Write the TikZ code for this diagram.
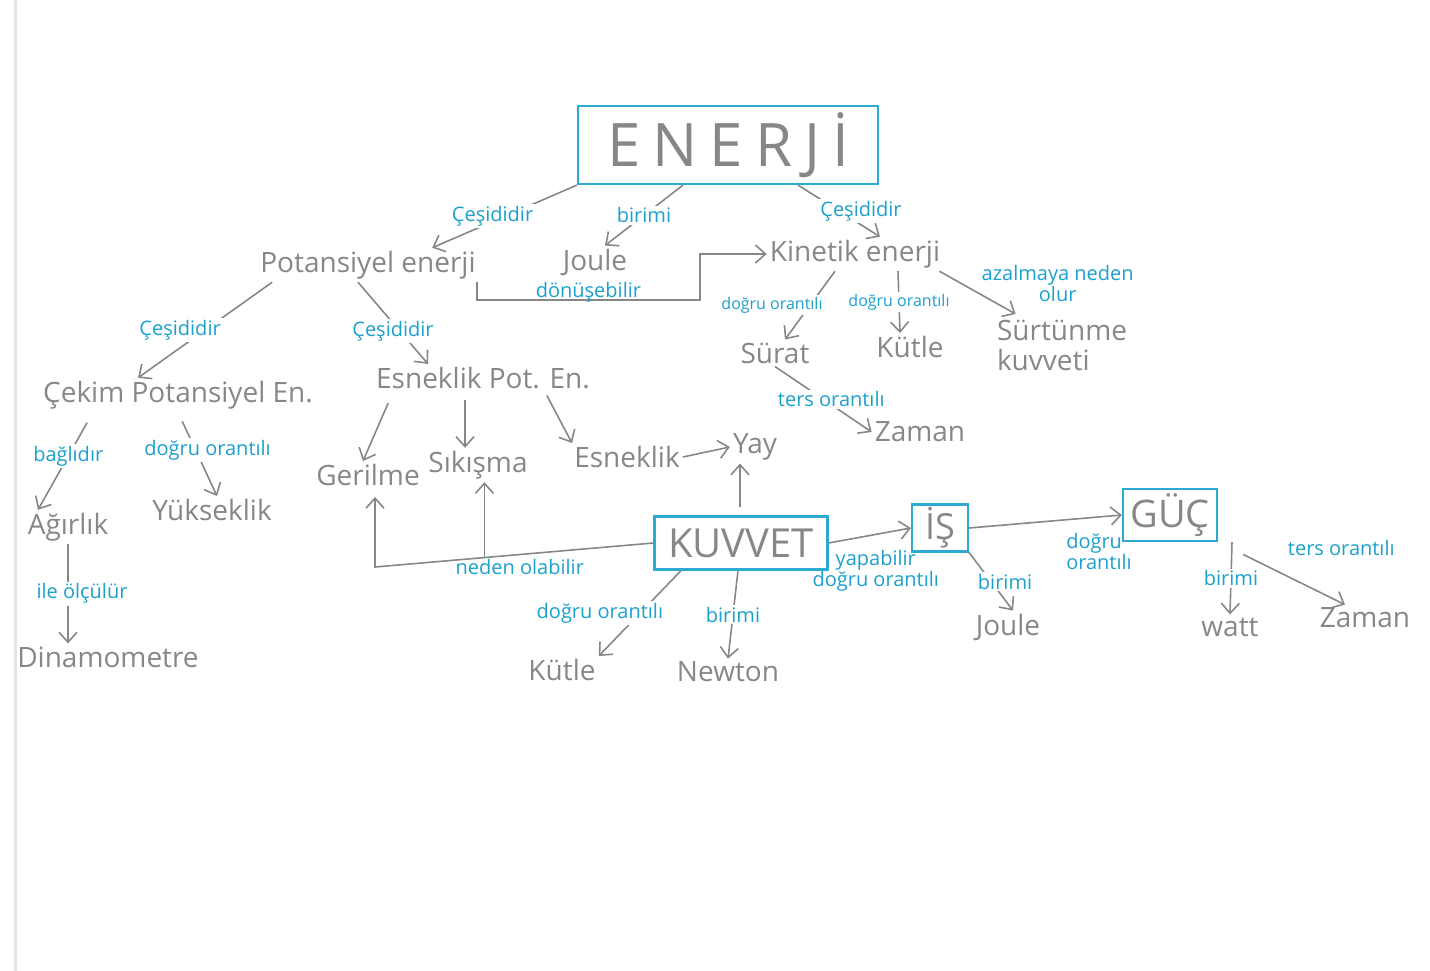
\documentclass[tikz,border=0pt]{standalone}
\usepackage{fontspec}
\setmainfont{Open Sans}
\newfontfamily\widefont[LetterSpace=20]{Open Sans}
\usepackage{xcolor}
\usetikzlibrary{arrows.meta,calc}
\definecolor{pencil}{RGB}{135,135,135}
\definecolor{ink}{RGB}{28,160,205}
\definecolor{boxink}{RGB}{45,170,210}
\newcommand{\fsz}[1]{\fontsize{#1}{#1}\selectfont}

\begin{document}
\begin{tikzpicture}[x=1pt,y=-1pt,
  concept/.style={text=pencil,font=\fontsize{28}{30}\selectfont,inner sep=3pt},
  mainbox/.style={draw=boxink,line width=2.2pt,text=pencil,inner sep=4pt},
  lbl/.style={text=ink,fill=white,inner sep=2pt,font=\fontsize{20}{21}\selectfont},
  smalllbl/.style={lbl,font=\fontsize{16}{17}\selectfont},
  arr/.style={draw=pencil,line width=1.6pt,-{Straight Barb[length=10pt,width=18pt]}}]
 \useasboundingbox (0,0) rectangle (1430,971);
 \draw[gray!20,line width=3pt] (15,0) -- (15,971);

 \draw (728,145) node[mainbox,minimum width=300,minimum height=78] (enerji)
              {\widefont\fsz{60}ENERJİ};

 \draw (368,265)  node[concept] (potansiyel) {Potansiyel enerji};
 \draw (595,262)  node[concept] (joule1)     {Joule};
 \draw (855,254)  node[concept] (kinetik)    {Kinetik enerji};

 \draw (178,395)  node[concept] (cekim)      {Çekim Potansiyel En.};
 \draw (483,378)  node[concept] (esneklikpot) {Esneklik Pot. En.};
 \draw (775,353)  node[concept] (surat)      {Sürat};
 \draw (910,347)  node[concept] (kutle1)     {Kütle};
 \draw (1062,345) node[concept,align=left] (surtunme) {Sürtünme\\kuvveti};
 \draw (920,432)  node[concept] (zaman1)     {Zaman};

 \draw (68,527)   node[concept] (agirlik)    {Ağırlık};
 \draw (212,510)  node[concept] (yukseklik)  {Yükseklik};
 \draw (108,657)  node[concept] (dinamometre) {Dinamometre};

 \draw (368,475)  node[concept] (gerilme)    {Gerilme};
 \draw (478,465)  node[concept] (sikisma)    {Sıkışma};
 \draw (627,457)  node[concept] (esneklik)   {Esneklik};
 \draw (755,447)  node[concept] (yay)        {Yay};

 \draw (741,543)  node[mainbox,minimum width=173,minimum height=53] (kuvvet)
              {\fsz{40}KUVVET};
 \draw (940,528)  node[mainbox,minimum width=56,minimum height=47,inner sep=1pt] (is)
              {\fsz{36}İŞ};
 \draw (1170,515) node[mainbox,minimum width=94,minimum height=52,inner sep=1pt] (guc)
              {\fsz{38}GÜÇ};

 \draw (562,670)  node[concept] (kutle2)     {Kütle};
 \draw (728,672)  node[concept] (newton)     {Newton};
 \draw (1008,627) node[concept] (joule2)     {Joule};
 \draw (1230,627) node[concept] (watt)       {watt};
 \draw (1365,618) node[concept] (zaman2)     {Zaman};

 \draw[arr] (enerji.south west) -- (potansiyel.15)
    node[lbl,midway,xshift=-12] {Çeşididir};
 \draw[arr] ([xshift=-45]enerji.south) -- ([xshift=10]joule1.north)
    node[lbl,midway] {birimi};
 \draw[arr] ([xshift=70]enerji.south) -- ([xshift=25]kinetik.north)
    node[lbl,midway,xshift=22] {Çeşididir};

 \draw (700,300) coordinate (bend);
 \draw[arr] ([xshift=-2]potansiyel.south east) |- (bend)
    node[lbl,pos=0.75,fill=none,above=-5pt] {dönüşebilir} |- (kinetik.west);

 \draw[arr] ([xshift=15]potansiyel.south west) -- ([xshift=-40]cekim.north)
    node[lbl,midway,xshift=-25] {Çeşididir};
 \draw[arr] ([xshift=-10]potansiyel.south) -- ([xshift=-55]esneklikpot.north)
    node[lbl,midway,yshift=-8] {Çeşididir};

 \draw[arr] ([xshift=-20]kinetik.south) -- ([xshift=10]surat.north)
    node[smalllbl,midway,xshift=-38] {doğru orantılı};
 \draw[arr] ([xshift=43]kinetik.south) -- ([xshift=-10]kutle1.north)
    node[smalllbl,midway] {doğru orantılı};
 \draw[arr,shorten >=5pt] ([xshift=-4]kinetik.south east) -- ([xshift=-42]surtunme.north)
    node[lbl,midway,xshift=78,yshift=10,fill=none,align=center] {azalmaya neden\\olur};
 \draw[arr] (surat.south) -- (zaman1.west)
    node[lbl,midway,xshift=8] {ters orantılı};

 \draw[arr,shorten <=12pt] ([xshift=-85]cekim.south) -- ([xshift=-30]agirlik.north)
    node[lbl,pos=0.45] {bağlıdır};
 \draw[arr,shorten <=10pt] (cekim.south) -- ([xshift=5]yukseklik.north)
    node[lbl,pos=0.45,xshift=12] {doğru orantılı};
 \draw[arr] (agirlik.south) -- (agirlik.south |- dinamometre.north)
    node[lbl,midway,xshift=14] {ile ölçülür};

 \draw[arr,shorten <=12pt] ([xshift=-90]esneklikpot.south) -- ([xshift=-5]gerilme.north);
 \draw[arr,shorten <=8pt] ([xshift=-18]esneklikpot.south) -- ([xshift=-13]sikisma.north);
 \draw[arr,shorten <=4pt] ([xshift=62]esneklikpot.south) -- ([xshift=-55]esneklik.north);
 \draw[arr] (esneklik.east) -- (yay.west);

 \draw[arr,shorten <=8pt] ([xshift=-15]yay.south |- kuvvet.north) -- ([xshift=-15]yay.south);
 \draw (375,567) coordinate (kfork);
 \draw[arr,shorten >=8pt] (kuvvet.west) -- (kfork)
    node[lbl,pos=0.48,below=2pt,fill=none] {neden olabilir} -- (gerilme.south -| kfork);
 \draw ($(kuvvet.west)!0.607!(kfork)$) coordinate (kmid);
 \draw[arr] (kmid) -- (kmid |- sikisma.south);

 \draw[arr] ([xshift=-60]kuvvet.south) -- (kutle2.north east)
    node[lbl,midway,xshift=-40] {doğru orantılı};
 \draw[arr] ([xshift=-3]kuvvet.south) -- (newton.north)
    node[lbl,midway] {birimi};
 \draw[arr] (kuvvet.east) -- (is.west)
    node[lbl,midway,below=12pt,xshift=6,fill=none,align=center] {yapabilir\\doğru orantılı};
 \draw[arr] (is.south east) -- ([xshift=5]joule2.north)
    node[lbl,midway,xshift=14] {birimi};
 \draw[arr] (is.east) -- (guc.west)
    node[lbl,pos=0.85,below=14pt,fill=none,align=left] {doğru\\orantılı};
 \draw[arr] ([xshift=62]guc.south) -- (watt.north)
    node[lbl,midway] {birimi};
 \draw[arr,shorten <=28pt] (guc.south east) -- ([xshift=-20]zaman2.north)
    node[lbl,pos=0.3,anchor=south west,xshift=29,yshift=2] {ters orantılı};

\end{tikzpicture}
\end{document}
